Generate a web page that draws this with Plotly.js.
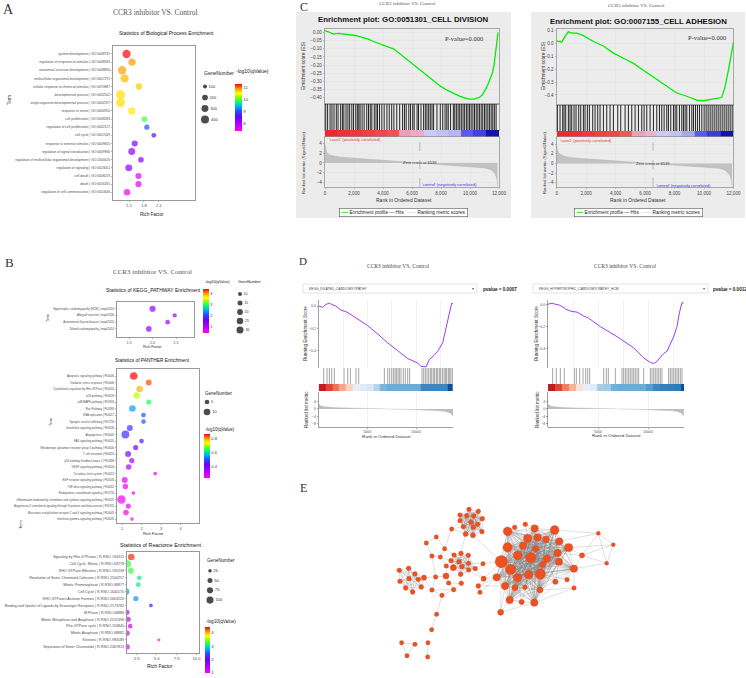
<!DOCTYPE html>
<html><head><meta charset="utf-8">
<script src="https://cdn.plot.ly/plotly-3.0.1.min.js"></script>
<style>html,body{margin:0;padding:0;background:#fff;}#chart{width:746px;height:678px;}</style>
</head><body><div id="chart"></div>
<script>
// ================= DATA =================
// Panel A: GO Biological Process
const bpTerms = ["system development | GO:0048731","regulation of response to stimulus | GO:0048583","anatomical structure development | GO:0048856","multicellular organismal development | GO:0007275","cellular response to chemical stimulus | GO:0070887","developmental process | GO:0032502","single-organism developmental process | GO:0044767","response to stress | GO:0006950","cell proliferation | GO:0008283","regulation of cell proliferation | GO:0042127","cell cycle | GO:0007049","response to external stimulus | GO:0009605","regulation of signal transduction | GO:0009966","regulation of multicellular organismal development | GO:2000026","regulation of signaling | GO:0023051","cell death | GO:0008219","death | GO:0016265","regulation of cell communication | GO:0010646"];
const bpRichFactor = [1.45,1.56,1.36,1.41,1.70,1.33,1.33,1.555,1.81,1.86,2.0,1.615,1.555,1.74,1.495,1.69,1.69,1.46];
const bpLogQ = [11.3,10.9,10.87,10.79,10.71,10.63,10.63,10.59,9.96,9.0,8.61,8.34,8.30,8.22,8.26,7.59,7.59,7.43];
const bpGeneNumber = [420,340,430,420,260,520,500,330,200,170,140,230,300,200,300,230,230,260];
const bpLegendGenes = [100,200,300,400];
const bpColorTicks = [8,9,10,11];
const bpRichTicks = [1.5,1.8,2.1];

// Panel B: KEGG
const keggTerms = ["Hypertrophic cardiomyopathy (HCM) | map05410","Allograft rejection | map05330","Autoimmune thyroid disease | map05320","Dilated cardiomyopathy | map05414"];
const keggRichFactor = [2.0,2.47,2.32,1.92];
const keggLogQ = [1.35,1.25,1.3,1.35];
const keggGeneNumber = [23,11,13,19];
const keggLegendGenes = [10,15,20,25,30];
const keggColorTicks = [1,2,3,4];
const keggRichTicks = [1.5,2.0,2.5];

// Panel B: PANTHER
const ptTerms = ["Apoptosis signaling pathway | P00006","Oxidative stress response | P00046","Cytoskeletal regulation by Rho GTPase | P00016","p53 pathway | P00059","p38 MAPK pathway | P05918","Ras Pathway | P04393","DNA replication | P00017","Synaptic vesicle trafficking | P05734","Interleukin signaling pathway | P00036","Angiogenesis | P00005","FAS signaling pathway | P00020","Metabotropic glutamate receptor group II pathway | P00040","T cell activation | P00053","p53 pathway feedback loops 2 | P04398","VEGF signaling pathway | P00056","Circadian clock system | P00015","EGF receptor signaling pathway | P00018","TGF-beta signaling pathway | P00052","Endogenous cannabinoid signaling | P05730","Inflammation mediated by chemokine and cytokine signaling pathway | P00031","Angiotensin II-stimulated signaling through G proteins and beta-arrestin | P05911","Muscarinic acetylcholine receptor 2 and 4 signaling pathway | P00043","Interferon-gamma signaling pathway | P00035"];
const ptRichFactor = [1.6,2.37,1.9,1.75,2.37,1.53,2.1,2.1,1.4,1.17,2.0,1.7,1.31,1.5,1.34,2.7,1.14,1.17,1.58,0.97,1.32,1.2,1.51];
const ptLogQ = [0.87,0.838,0.79,0.71,0.64,0.55,0.50,0.50,0.47,0.47,0.45,0.42,0.39,0.35,0.33,0.27,0.26,0.26,0.255,0.243,0.25,0.243,0.236];
const ptGeneNumber = [13,8,10,9,6,10,5,5,8,14,5,6,8,6,7,3,8,7,3,16,6,7,3];
const ptLegendGenes = [5,10];
const ptColorTicks = [0.4,0.6,0.8];
const ptRichTicks = [1,2,3,4];

// Panel B: Reactome
const rcTerms = ["Signaling by Rho GTPases | R-RNO-194315","Cell Cycle, Mitotic | R-RNO-69278","RHO GTPase Effectors | R-RNO-195258","Resolution of Sister Chromatid Cohesion | R-RNO-2500257","Mitotic Prometaphase | R-RNO-68877","Cell Cycle | R-RNO-1640170","RHO GTPases Activate Formins | R-RNO-5663220","Binding and Uptake of Ligands by Scavenger Receptors | R-RNO-2173782","M Phase | R-RNO-68886","Mitotic Metaphase and Anaphase | R-RNO-2555396","Rho GTPase cycle | R-RNO-194840","Mitotic Anaphase | R-RNO-68882","Kinesins | R-RNO-983189","Separation of Sister Chromatids | R-RNO-2467813"];
const rcRichFactor = [1.83,1.38,1.79,2.83,2.71,1.16,2.41,4.29,1.29,1.45,1.7,1.33,5.29,1.33];
const rcLogQ = [4.35,3.28,3.28,3.07,3.07,2.73,2.7,2.14,1.41,1.28,1.24,1.2,1.07,1.2];
const rcGeneNumber = [88,100,75,44,44,100,54,28,54,54,44,54,16,54];
const rcLegendGenes = [25,50,75,100];
const rcColorTicks = [1,2,3,4];
const rcRichTicks = [2.5,5,7.5,10];

// Panel C: GSEA (Broad style)
const c1Rank = [0,230,580,920,1200,1500,1850,2190,2650,3000,3350,3700,4040,4380,4730,5080,5420,5770,6120,6580,7040,7500,7960,8420,8880,9230,9580,9930,10270,10620,10850,11020,11190,11360,11540,11660,11770,11850,11930];
const c1ES = [0.01,0.005,-0.01,-0.005,-0.008,-0.01,-0.015,-0.02,-0.03,-0.04,-0.055,-0.068,-0.08,-0.09,-0.10,-0.125,-0.15,-0.175,-0.2,-0.233,-0.265,-0.3,-0.33,-0.355,-0.375,-0.39,-0.40,-0.41,-0.41,-0.40,-0.385,-0.36,-0.33,-0.29,-0.25,-0.2,-0.13,-0.07,0.0];
const c1Hits = [50,180,350,480,620,780,900,1080,1200,1300,1450,1580,1700,1850,1970,2120,2230,2330,2420,2560,2700,2880,3000,3120,3230,3400,3520,3620,3760,3920,4080,4270,4430,4600,4750,4950,5150,5350,5480,5600,5780,5900,6050,6150,6350,6450,6620,6800,6920,7030,7150,7260,7380,7490,7720,7950,8120,8280,8400,8500,8660,8850,8950,9060,9180,9290,9400,9520,9630,9750,9860,9970,10080,10200,10310,10430,10540,10650,10770,10880,11000,11110,11230,11340,11460,11570,11680,11800];
const c2Rank = [0,340,566,790,1020,1360,1810,2490,3170,3850,4530,5210,5780,6340,6900,7470,8150,8830,9510,9960,10300,10640,11200,11430,11660,11890,12000];
const c2ES = [0.02,0.01,0.055,0.09,0.08,0.08,0.06,0.015,-0.02,-0.075,-0.115,-0.155,-0.2,-0.245,-0.29,-0.335,-0.385,-0.41,-0.44,-0.445,-0.435,-0.43,-0.42,-0.335,-0.205,-0.05,0.01];
const c2Hits = [45,226,408,498,611,792,906,1019,1177,1313,1494,1630,1811,1924,2083,2219,2445,2604,2785,2943,3170,3396,3622,3849,4143,4347,4641,4868,5094,5320,5547,5773,5932,6113,6339,6566,6792,6973,7131,7290,7471,7584,7743,7924,8037,8150,8332,8490,8603,8717,8830,9011,9170,9283,9418,9554,9690,9849,10007,10143,10279,10415,10551,10687,10823,10959,11094,11230,11366,11502,11638,11774,11909];
const cMetricRank = [0,40,120,300,600,1000,1500,2000,3000,4000,5000,6000,6539,7000,8000,9000,10000,10500,11000,11300,11500,11700,11800,11870,11900];
const c1Metric = [3.8,2.8,2.1,1.7,1.4,1.2,1.05,0.95,0.75,0.55,0.35,0.12,0,-0.08,-0.25,-0.45,-0.65,-0.8,-1.0,-1.25,-1.5,-2.1,-2.7,-3.5,-4.8];
const c2Metric = [3.9,2.9,2.2,1.75,1.4,1.2,1.05,0.95,0.75,0.55,0.35,0.12,0,-0.08,-0.25,-0.45,-0.65,-0.8,-1.0,-1.25,-1.55,-2.2,-2.8,-3.6,-4.9];
const cZeroCross = 6539;
const cBandEdges = [0,850,1700,2550,3400,4250,5100,5950,6800,7650,8500,9350,10200,11100,12000];
const c1BandLevels = [1.0,0.95,0.9,0.85,0.8,0.75,0.35,0.28,-0.2,-0.25,-0.3,-0.6,-0.7,-0.95];
const c2BandLevels = [1.0,0.95,0.9,0.85,0.8,0.72,0.35,0.25,-0.2,-0.25,-0.35,-0.6,-0.72,-0.95];

// Panel D: GSEA (clusterProfiler style)
const d1Rank = [0,410,750,1100,1440,1780,2290,2800,3320,4000,5030,6060,7090,8120,9140,10170,10510,11030,11370,11880,12230,12740,13080,13420,13660,13870];
const d1ES = [0.0,-0.012,0.015,0.025,0.01,0.0,-0.037,-0.05,-0.077,-0.115,-0.175,-0.25,-0.33,-0.40,-0.47,-0.51,-0.54,-0.545,-0.48,-0.44,-0.405,-0.33,-0.19,-0.07,0.025,0.015];
const d1Hits = [514,856,1096,1336,1610,2603,2979,3253,3836,4110,6747,7089,7295,7500,7671,7842,7979,8151,8288,8459,8699,8904,9144,9349,10616,10788,10959,11130,11301,11473,11610,11781,11918,12089,12226,12397,12534,12705,12877,13014,13151,13322,13459,13596,13767];
const d2Rank = [0,400,730,1070,1400,1900,2400,2900,3570,4070,5230,6900,8570,9570,10230,10570,10900,11230,11570,11900,12230,12570,12900,13130,13400,13570];
const d2ES = [0,0.01,0.0,-0.005,-0.02,-0.05,-0.065,-0.07,-0.105,-0.125,-0.2,-0.29,-0.39,-0.48,-0.52,-0.53,-0.51,-0.47,-0.44,-0.42,-0.35,-0.29,-0.2,-0.08,0.015,0.01];
const d2Hits = [467,833,1233,1633,2633,2833,3167,3500,3767,3967,4167,5567,5833,6033,6733,7400,7567,7733,7900,8067,8233,8400,8567,8733,8900,9067,9567,10233,10400,10567,10733,10900,11067,11233,11400,12067,12233,12400,12567,12733,12900,13067,13233,13400];
const d1MetricRank = [0,100,300,600,1000,2000,3000,4000,5000,6000,7000,8000,9000,10000,11000,12000,12500,13000,13400,13650,13800];
const d1Metric = [2.8,2.0,1.5,1.2,1.0,0.7,0.5,0.35,0.22,0.1,0.0,-0.1,-0.2,-0.32,-0.5,-0.8,-1.0,-1.4,-2.0,-2.8,-4.0];
const d2MetricRank = [0,100,300,600,1000,2000,3000,4000,5000,6000,7000,8000,9000,10000,11000,12000,12500,12900,13250,13450,13580];
const d2Metric = [2.9,2.1,1.5,1.2,1.0,0.7,0.5,0.35,0.22,0.1,0.0,-0.1,-0.2,-0.32,-0.5,-0.8,-1.0,-1.4,-2.0,-2.9,-4.0];
const d1BandEdges = [0,700,1400,2100,2800,3500,4200,4900,5600,6300,7000,7700,8400,9100,9800,10500,11200,11900,12600,13300,13800];
const d1BandLevels = [1.0,0.8,0.65,0.45,0.25,-0.05,-0.08,-0.12,-0.25,-0.45,-0.5,-0.5,-0.5,-0.5,-0.5,-0.62,-0.62,-0.62,-0.62,-0.95];
const d2BandEdges = [0,700,1400,2100,2800,3500,4200,4900,5600,6300,7000,7700,8400,9100,9800,10500,11200,11900,12600,13300,13600];
const d2BandLevels = [1.0,0.8,0.6,0.4,0.15,-0.05,-0.08,-0.3,-0.32,-0.48,-0.5,-0.5,-0.5,-0.5,-0.55,-0.62,-0.65,-0.68,-0.7,-0.95];

// Panel E: PPI network (layout coordinates and degree)
const nodeX = [627,655,600,620,641,667,600,633,653,610,640,666,617,639,575, 529,499,554,516,541,582,603,625,573,597,559,580,606,626,626,602,646,669,558,527,566,604,581,516,546, 418,446,465,447,420,475,492,437,458,484, 530,515, 425,465,441, 504,503, 655,660, 743,764,796,824,884,803,833,858,898,789,743,827,926,773,812,861,893,724,752,848,897,942,806,841,773,710,735,765,795,840,886,921,942,749,785,823,722,966,671, 1015,1060,1040];
const nodeY = [238,244,255,257,258,266,272,277,283,290,292,305,312,316,297, 321,339,356,378,381,375,370,376,392,395,408,413,410,400,420,433,416,401,438,441,459,460,479,480,496, 421,415,432,446,454,448,443,474,486,471, 553,599, 638,643,677, 638,681, 468,487, 304,292,283,295,300,325,322,328,334,347,352,356,353,376,383,386,369,395,418,404,395,416,434,432,443,442,468,473,472,480,455,449,474,510,516,518,547,376,446, 310,344,400];
const nodeDegree = [5,5,5,5,6,6,5,6,6,6,6,5,7,7,4, 4,4,4,5,4,5,5,5,5,6,5,12,6,5,5,6,5,4,12,5,5,5,5,5,5, 6,6,6,6,6,6,8,6,6,6, 4,4, 4,4,4, 4,4, 6,4, 25,5,5,18,25,22,18,15,18,18,28,12,22,25,32,18,18,42,32,12,18,18,22,32,22,18,18,12,5,12,8,5,5,18,8,18,12,8,8, 2,2,2];
const netCliques = [[0,1,2,3,4,5,6,7,8,9,10,11,12,13],[20,21,22,23,24,26,27,28,29,30,31],[40,41,42,43,44,45,47,48,49],[59,62,63,64,65,66,67,68,69,70,71,72,73,74,75,76,77,78,79,80,81,82,83,84,85,86,88,92,94]];
const netEdges = [[14,9],[14,12],[14,6],[13,76],[12,21],[14,17],[15,16],[15,17],[16,18],[17,19],[17,20],[18,19],[18,34],[19,23],[19,25],[25,26],[25,33],[23,25],[33,34],[33,35],[33,26],[34,38],[34,46],[35,36],[35,37],[36,30],[36,37],[37,39],[38,39],[37,38],[39,50],[50,51],[52,53],[53,54],[52,54],[55,56],[46,45],[46,42],[46,49],[46,38],[32,31],[32,28],[32,76],[31,97],[97,84],[97,76],[97,57],[57,58],[57,84],[58,84],[57,85],[29,97],[60,59],[60,64],[60,68],[61,62],[61,64],[61,65],[87,81],[87,83],[87,73],[89,82],[89,74],[89,79],[90,80],[90,82],[91,80],[91,94],[91,88],[93,92],[93,81],[93,83],[95,92],[95,85],[95,76],[95,94],[96,71],[96,80],[96,75],[96,98],[96,100],[63,98],[67,98],[98,99],[98,100],[99,100],[71,99],[80,100],[96,99]];

// ================= STYLE / LAYOUT =================
const W = 746, H = 678;
const SANS = 'Liberation Sans, Arial, sans-serif';
const SERIF = 'Liberation Serif, Times New Roman, serif';
const RAINBOW = [[0,'#FF00F0'],[0.15,'#B000FF'],[0.3,'#6A00FF'],[0.42,'#2050FF'],[0.52,'#00B0FF'],[0.62,'#00FF70'],[0.72,'#90FF00'],[0.8,'#FFFF00'],[0.9,'#FF9900'],[1,'#FF0000']];
const CBAND = [[0,'#0A0AA0'],[0.1,'#2828D0'],[0.2,'#5A5AEC'],[0.3,'#9A9AF4'],[0.38,'#C4C4F8'],[0.45,'#DCDCFA'],[0.5,'#F2ECF6'],[0.6,'#F2B8DA'],[0.68,'#F09AB8'],[0.8,'#F07070'],[0.9,'#F04848'],[1,'#F02828']];
const DBAND = [[0,'#08468C'],[0.1,'#1F6EB0'],[0.19,'#3A86C2'],[0.25,'#6AAED8'],[0.35,'#A8CDE6'],[0.42,'#CFE1F2'],[0.47,'#E6EEF8'],[0.5,'#F6F6F6'],[0.6,'#FDDBC9'],[0.72,'#F8A98E'],[0.82,'#F07358'],[0.92,'#DC3B2C'],[1,'#BE1E22']];

const layout = {width:W, height:H, margin:{l:0,r:0,t:0,b:0,pad:0}, paper_bgcolor:'#ffffff', plot_bgcolor:'#ffffff',
  showlegend:false, font:{family:SANS, size:5, color:'#333'}, shapes:[], annotations:[]};
const traces = [];
let axN = 0;
function dom(x0,x1,y0,y1){ return {x:[x0/W, x1/W], y:[1-y1/H, 1-y0/H]}; }
function addAxes(d, xo, yo){
  axN++; const s = axN===1 ? '' : String(axN);
  const base = {showgrid:false, zeroline:false, showline:false, showticklabels:false, ticks:'', fixedrange:true, automargin:false};
  layout['xaxis'+s] = Object.assign({}, base, {domain:d.x, anchor:'y'+s}, xo||{});
  layout['yaxis'+s] = Object.assign({}, base, {domain:d.y, anchor:'x'+s}, yo||{});
  return {xa:'x'+s, ya:'y'+s};
}
function ann(text, x, y, size, o){
  o = o || {};
  const a = {text:text, x:x/W, y:1-y/H, xref:'paper', yref:'paper', showarrow:false,
    xanchor:o.xa||'center', yanchor:'middle', textangle:o.angle||0,
    font:{family:o.family||SANS, size:size, color:o.color||'#222'}};
  if (o.bg) a.bgcolor = o.bg;
  if (o.border){ a.bordercolor = o.border; a.borderwidth = 0.6; a.borderpad = o.pad||1; }
  layout.annotations.push(a);
}
function rect(x0,y0,x1,y1,fill,line){
  layout.shapes.push({type:'rect', xref:'paper', yref:'paper', x0:x0/W, x1:x1/W, y0:1-y1/H, y1:1-y0/H,
    fillcolor:fill, line:{color:line||fill, width:line?0.6:0}, layer:'below'});
}

// ---------- enrichment bubble panels ----------
function enrichPanel(c){
  const frame = {showline:true, mirror:true, linecolor:'#7f7f7f', linewidth:0.8, ticks:'outside', ticklen:1.5, tickwidth:0.5, tickcolor:'#666'};
  const a = addAxes(dom(c.box[0],c.box[1],c.box[2],c.box[3]),
    Object.assign({range:c.xRange, tickvals:c.xTicks, tickformat:c.xFmt, showticklabels:true, tickfont:{size:c.tickSize, color:'#4d4d4d'}}, frame),
    Object.assign({type:'category', categoryorder:'array', categoryarray:c.terms, range:c.yRange, showticklabels:true, tickfont:{size:c.termSize, color:'#4d4d4d'}}, frame));
  traces.push({type:'scatter', mode:'markers', x:c.rich, y:c.terms, xaxis:a.xa, yaxis:a.ya, hoverinfo:'skip',
    marker:{size:c.genes, sizemode:'area', sizeref:c.sizeref, sizemin:1, color:c.q, cmin:c.qRange[0], cmax:c.qRange[1], colorscale:RAINBOW, line:{width:0},
      showscale:true, colorbar:{x:c.cb.x/W, xanchor:'left', y:1-c.cb.y0/H, yanchor:'top', len:c.cb.y1-c.cb.y0, lenmode:'pixels', thickness:c.cb.t, thicknessmode:'pixels',
        xpad:0, ypad:0, outlinewidth:0, tickvals:c.cTicks, tickformat:c.cFmt, ticks:'', ticklen:0, tickfont:{size:c.cbFont, color:'#333'}, title:{text:''}}}});
  const L = c.legend;
  const b = addAxes(dom(L.x-3, L.x+27, L.y0, L.y1), {range:[-3,27]}, {range:[c.legendGenes.length-0.5, -0.5]});
  traces.push({type:'scatter', mode:'markers+text', x:c.legendGenes.map(()=>0), y:c.legendGenes.map((_,i)=>i),
    text:c.legendGenes.map(String), textposition:'middle right', textfont:{size:c.legendFont, color:'#333'}, cliponaxis:false,
    marker:{size:c.legendGenes, sizemode:'area', sizeref:c.sizeref, color:'#000', line:{width:0}}, xaxis:b.xa, yaxis:b.ya, hoverinfo:'skip'});
}

enrichPanel({box:[113,195,46,200], terms:bpTerms, rich:bpRichFactor, q:bpLogQ, genes:bpGeneNumber, xRange:[1.177,2.83], xTicks:bpRichTicks, xFmt:'.1f',
  yRange:[17.95,-0.98], tickSize:4, termSize:3.3, sizeref:12.3, qRange:[7.35,11.3], cTicks:bpColorTicks, cFmt:'d',
  cb:{x:235, y0:84, y1:131, t:7}, cbFont:4.3, legend:{x:205, y0:81, y1:125}, legendGenes:bpLegendGenes, legendFont:4});
enrichPanel({box:[117,194,302,337], terms:keggTerms, rich:keggRichFactor, q:keggLogQ, genes:keggGeneNumber, xRange:[1.245,2.88], xTicks:keggRichTicks, xFmt:'.1f',
  yRange:[4.2,-1.0], tickSize:3.6, termSize:2.8, sizeref:1.2, qRange:[0.45,4.45], cTicks:keggColorTicks, cFmt:'d',
  cb:{x:203, y0:289, y1:333, t:6}, cbFont:3.8, legend:{x:240, y0:289.5, y1:334.5}, legendGenes:keggLegendGenes, legendFont:3.6});
enrichPanel({box:[117,199,369,523], terms:ptTerms, rich:ptRichFactor, q:ptLogQ, genes:ptGeneNumber, xRange:[0.74,4.95], xTicks:ptRichTicks, xFmt:'d',
  yRange:[22.6,-1.08], tickSize:3.8, termSize:2.8, sizeref:0.45, qRange:[0.23,0.87], cTicks:ptColorTicks, cFmt:'.1f',
  cb:{x:204, y0:434, y1:478, t:6}, cbFont:4, legend:{x:207, y0:397, y1:417}, legendGenes:ptLegendGenes, legendFont:4});
enrichPanel({box:[127,199,552,653], terms:rcTerms, rich:rcRichFactor, q:rcLogQ, genes:rcGeneNumber, xRange:[1.3,10.3], xTicks:rcRichTicks, xFmt:'.1f',
  yRange:[13.88,-0.72], tickSize:4.2, termSize:3.6, sizeref:4, qRange:[1.0,4.45], cTicks:rcColorTicks, cFmt:'d',
  cb:{x:205, y0:627, y1:673, t:5}, cbFont:4.2, legend:{x:210, y0:566, y1:605}, legendGenes:rcLegendGenes, legendFont:4.2});

// ---------- GSEA (Broad) panels ----------
function gseaC(c){
  const xr = [0,12000];
  const box = {showline:true, mirror:true, linecolor:'#8c8c8c', linewidth:0.7};
  const gx = {showgrid:true, gridcolor:'#e2e2e2', gridwidth:0.5, dtick:2000, tick0:0};
  const tk = {showticklabels:true, ticks:'outside', ticklen:1.5, tickwidth:0.5, tickcolor:'#8c8c8c', tickfont:{size:4.6, color:'#444'}};
  const es = addAxes(dom(c.x0,c.x1,c.esTop,c.esBot), Object.assign({range:xr}, gx, box),
    Object.assign({range:c.esRange, showgrid:true, gridcolor:'#e2e2e2', gridwidth:0.5, dtick:c.esDtick, tick0:0, tickformat:c.esFmt}, tk, box));
  traces.push({type:'scatter', mode:'lines', x:c.rank, y:c.es, line:{color:'#00EE00', width:1.3}, xaxis:es.xa, yaxis:es.ya, hoverinfo:'skip'});
  const hx=[], hy=[]; c.hits.forEach(h=>{hx.push(h,h,null); hy.push(0,1,null);});
  const hi = addAxes(dom(c.x0,c.x1,c.esBot,c.hitsBot), Object.assign({range:xr}, box), Object.assign({range:[0,1]}, box));
  traces.push({type:'scatter', mode:'lines', x:hx, y:hy, line:{color:'rgba(0,0,0,0.85)', width:1}, xaxis:hi.xa, yaxis:hi.ya, hoverinfo:'skip'});
  const bd = addAxes(dom(c.x0,c.x1,c.hitsBot,c.bandBot), {range:xr}, {range:[-0.5,0.5]});
  traces.push({type:'heatmap', x:c.bandEdges, y:[0], z:[c.bandLevels], zmin:-1, zmax:1, colorscale:CBAND, showscale:false, xaxis:bd.xa, yaxis:bd.ya, hoverinfo:'skip'});
  const rk = addAxes(dom(c.x0,c.x1,c.bandBot,c.rankBot), Object.assign({range:xr, tickformat:',d'}, gx, tk, box),
    Object.assign({range:c.rankRange, showgrid:true, gridcolor:'#e2e2e2', gridwidth:0.5, dtick:2, tick0:0}, tk, box));
  traces.push({type:'scatter', mode:'lines', x:c.metricRank, y:c.metric, fill:'tozeroy', fillcolor:'#C2C2C2', line:{color:'#B5B5B5', width:0.5}, xaxis:rk.xa, yaxis:rk.ya, hoverinfo:'skip'});
  layout.shapes.push({type:'line', xref:rk.xa, yref:rk.ya+' domain', x0:c.zc, x1:c.zc, y0:0, y1:1, line:{color:'#999', width:0.6, dash:'dash'}});
  layout.annotations.push({text:'Zero cross at '+c.zc, x:c.zc, y:0, xref:rk.xa, yref:rk.ya, showarrow:false, xanchor:'center', yanchor:'middle', font:{family:SANS, size:4, color:'#333'}});
}
gseaC({x0:325, x1:499, esTop:28.5, esBot:104, hitsBot:130, bandBot:137, rankBot:187, esRange:[-0.44,0.025], esDtick:0.05, esFmt:'.2f',
  rank:c1Rank, es:c1ES, hits:c1Hits, bandEdges:cBandEdges, bandLevels:c1BandLevels, metricRank:cMetricRank, metric:c1Metric, rankRange:[-4.9,5.3], zc:cZeroCross});
gseaC({x0:556.7, x1:733.5, esTop:29, esBot:105, hitsBot:131, bandBot:137, rankBot:187, esRange:[-0.478,0.112], esDtick:0.1, esFmt:'.1f',
  rank:c2Rank, es:c2ES, hits:c2Hits, bandEdges:cBandEdges, bandLevels:c2BandLevels, metricRank:cMetricRank, metric:c2Metric, rankRange:[-4.9,5.5], zc:cZeroCross});

// ---------- GSEA (clusterProfiler) panels ----------
function gseaD(c){
  const xr = [0,c.xMax];
  const gx = {showgrid:true, gridcolor:'#ebebeb', gridwidth:0.6, dtick:2500, tick0:0};
  const tk = {showticklabels:true, ticks:'outside', ticklen:1.5, tickwidth:0.5, tickcolor:'#555', tickfont:{size:3.6, color:'#555'}};
  const es = addAxes(dom(c.x0,c.x1,300,368), Object.assign({range:xr}, gx),
    Object.assign({range:c.esRange, tickvals:[-0.4,-0.2,0], tickformat:'.1f', showline:true, linecolor:'#444', linewidth:0.5}, tk));
  traces.push({type:'scatter', mode:'lines', x:c.rank, y:c.es, line:{color:'#9B3CF5', width:1}, xaxis:es.xa, yaxis:es.ya, hoverinfo:'skip'});
  const hx=[], hy=[]; c.hits.forEach(h=>{hx.push(h,h,null); hy.push(0,1,null);});
  const hi = addAxes(dom(c.x0,c.x1,368,384), {range:xr}, {range:[0,1]});
  traces.push({type:'scatter', mode:'lines', x:hx, y:hy, line:{color:'rgba(0,0,0,0.6)', width:0.6}, xaxis:hi.xa, yaxis:hi.ya, hoverinfo:'skip'});
  const bd = addAxes(dom(c.x0,c.x1,384,391), {range:xr}, {range:[-0.5,0.5]});
  traces.push({type:'heatmap', x:c.bandEdges, y:[0], z:[c.bandLevels], zmin:-1, zmax:1, colorscale:DBAND, showscale:false, xaxis:bd.xa, yaxis:bd.ya, hoverinfo:'skip'});
  const rk = addAxes(dom(c.x0,c.x1,392,427), Object.assign({range:xr, tickvals:[5000,10000], tickformat:'d', showline:true, linecolor:'#444', linewidth:0.5}, gx, tk),
    Object.assign({range:[-9.7,9.1], tickvals:[-8,-4,0,4], showline:true, linecolor:'#444', linewidth:0.5}, tk));
  traces.push({type:'scatter', mode:'lines', x:c.metricRank, y:c.metric, fill:'tozeroy', fillcolor:'#BDBDBD', line:{color:'#BDBDBD', width:0.4}, xaxis:rk.xa, yaxis:rk.ya, hoverinfo:'skip'});
}
gseaD({x0:318.7, x1:453, xMax:13800, esRange:[-0.555,0.054], rank:d1Rank, es:d1ES, hits:d1Hits, bandEdges:d1BandEdges, bandLevels:d1BandLevels, metricRank:d1MetricRank, metric:d1Metric});
gseaD({x0:548, x1:684, xMax:13600, esRange:[-0.57,0.038], rank:d2Rank, es:d2ES, hits:d2Hits, bandEdges:d2BandEdges, bandLevels:d2BandLevels, metricRank:d2MetricRank, metric:d2Metric});

// ---------- network ----------
(function(){
  const pairs = [];
  netCliques.forEach(cl=>{ for(let i=0;i<cl.length;i++) for(let j=i+1;j<cl.length;j++) pairs.push([cl[i],cl[j]]); });
  netEdges.forEach(e=>pairs.push(e));
  const ex=[], ey=[];
  pairs.forEach(([a,b])=>{ ex.push(nodeX[a],nodeX[b],null); ey.push(nodeY[a],nodeY[b],null); });
  const n = addAxes(dom(393.3,620,505,660), {range:[400,1080]}, {range:[690,225]});
  traces.push({type:'scatter', mode:'lines', x:ex, y:ey, line:{color:'rgba(125,125,125,0.6)', width:0.4}, xaxis:n.xa, yaxis:n.ya, hoverinfo:'skip'});
  traces.push({type:'scatter', mode:'markers', x:nodeX, y:nodeY, xaxis:n.xa, yaxis:n.ya, hoverinfo:'skip', cliponaxis:false,
    marker:{size:nodeDegree.map(d=>3.6+0.21*d), color:'#EE5020', opacity:1, line:{color:'#C8401A', width:0.3}}});
})();

// ---------- backgrounds & boxes ----------
rect(296,12,511,218,'#ECECEC');
rect(531,12,745,218,'#ECECEC');
rect(303,284,477,293,'#ffffff','#d0d0d0');
rect(533,284,708,293,'#ffffff','#d0d0d0');

// ---------- text ----------
// Panel A
ann('A', 8, 9, 14, {family:SERIF, color:'#333'});
ann('CCR3 inhibitor VS. Control', 155, 13, 7.5, {family:SERIF, color:'#555'});
ann('Statistics of Biological Process Enrichment', 166, 33, 5, {color:'#111'});
ann('Term', 10, 100, 4.5, {angle:-90, color:'#333'});
ann('Rich Factor', 152, 214, 4.6, {color:'#222'});
ann('GeneNumber', 202, 73, 5, {xa:'left', color:'#222'});
ann('-log10(qValue)', 234, 71, 5, {xa:'left', color:'#222'});
// Panel B
ann('B', 9, 262, 13, {family:SERIF, color:'#333'});
ann('CCR3 inhibitor VS. Control', 152, 272, 7, {family:SERIF, color:'#555'});
ann('Statistics of KEGG_PATHWAY Enrichment', 153, 290, 5, {color:'#111'});
ann('Term', 48, 318, 3.6, {angle:-90, color:'#333'});
ann('Rich Factor', 152, 347, 3.6, {color:'#222'});
ann('-log10(qValue)', 203, 282, 3.8, {xa:'left', color:'#222'});
ann('GeneNumber', 236, 282, 3.8, {xa:'left', color:'#222'});
ann('Statistics of PANTHER Enrichment', 152, 360, 4.8, {color:'#111'});
ann('Term', 51, 422, 3.6, {angle:-90, color:'#333'});
ann('Rich Factor', 153, 533, 4, {color:'#222'});
ann('GeneNumber', 203, 393, 4.5, {xa:'left', color:'#222'});
ann('-log10(qValue)', 203, 429, 4.5, {xa:'left', color:'#222'});
ann('Term', 20, 524, 4, {angle:-90, color:'#333'});
ann('Statistics of Reactome Enrichment', 160, 545, 5.3, {color:'#111'});
ann('Rich Factor', 160, 666, 5, {color:'#222'});
ann('GeneNumber', 205, 560, 4.6, {xa:'left', color:'#222'});
ann('-log10(qValue)', 204, 621, 4.6, {xa:'left', color:'#222'});
// Panel C
ann('C', 304, 7, 12, {family:SERIF, color:'#333'});
ann('CCR3 inhibitor VS. Control', 407, 4, 5, {family:SERIF, color:'#555'});
ann('CCR3 inhibitor VS. Control', 636, 5, 5, {family:SERIF, color:'#555'});
ann('<b>Enrichment plot: GO:0051301_CELL DIVISION</b>', 403, 19, 7.8, {color:'#111'});
ann('<b>Enrichment plot: GO:0007155_CELL ADHESION</b>', 638, 21, 7.8, {color:'#111'});
ann('P-value=0.000', 443, 39, 6.5, {xa:'left', family:SERIF, color:'#333'});
ann('P-value=0.000', 686, 37, 6.5, {xa:'left', family:SERIF, color:'#333'});
ann('Enrichment score (ES)', 303, 66, 4.8, {angle:-90, color:'#333'});
ann('Enrichment score (ES)', 543, 66, 4.8, {angle:-90, color:'#333'});
ann('Ranked list metric (Signal2Noise)', 303, 163, 4.2, {angle:-90, color:'#333'});
ann('Ranked list metric (Signal2Noise)', 544, 163, 4.2, {angle:-90, color:'#333'});
ann("'case2' (positively correlated)", 327, 139.5, 4, {xa:'left', color:'#F03030'});
ann("'case2' (positively correlated)", 558, 140, 4, {xa:'left', color:'#F03030'});
ann("'control' (negatively correlated)", 479, 184, 4, {xa:'right', color:'#3535F0'});
ann("'control' (negatively correlated)", 713, 185, 4, {xa:'right', color:'#3535F0'});
ann('Rank in Ordered Dataset', 404, 200, 5, {color:'#333'});
ann('Rank in Ordered Dataset', 638, 200, 5, {color:'#333'});
const legTxt = '<span style="color:#00DD00">━━</span> Enrichment profile <span style="color:#222">—</span> Hits  <span style="color:#bbb">——</span> Ranking metric scores';
ann(legTxt, 403.5, 212.5, 4.8, {color:'#222', bg:'#ffffff', border:'#555', pad:1.5});
ann(legTxt, 638.5, 212.5, 4.8, {color:'#222', bg:'#ffffff', border:'#555', pad:1.5});
// Panel D
ann('D', 303, 261, 11, {family:SERIF, color:'#333'});
ann('CCR3 inhibitor VS. Control', 398, 266, 5.5, {family:SERIF, color:'#444'});
ann('CCR3 inhibitor VS. Control', 625, 266, 5.5, {family:SERIF, color:'#444'});
ann('KEGG_DILATED_CARDIOMYOPATHY', 307, 288.5, 3.3, {xa:'left', color:'#444'});
ann('KEGG_HYPERTROPHIC_CARDIOMYOPATHY_HCM', 537, 288.5, 3.3, {xa:'left', color:'#444'});
ann('▾', 473, 289, 3.5, {color:'#555'});
ann('▾', 704, 289, 3.5, {color:'#555'});
ann('<b>pvalue = 0.0007</b>', 481, 289, 4.6, {xa:'left', color:'#222'});
ann('<b>pvalue = 0.0012</b>', 711, 289, 4.6, {xa:'left', color:'#222'});
ann('Running Enrichment Score', 306, 334, 4.6, {angle:-90, color:'#333'});
ann('Running Enrichment Score', 537, 334, 4.6, {angle:-90, color:'#333'});
ann('Ranked list metric', 306, 410, 4.6, {angle:-90, color:'#333'});
ann('Ranked list metric', 537, 410, 4.6, {angle:-90, color:'#333'});
ann('Rank in Ordered Dataset', 386, 436, 4.4, {color:'#333'});
ann('Rank in Ordered Dataset', 616, 435, 4.4, {color:'#333'});
// Panel E
ann('E', 303, 488, 12, {family:SERIF, color:'#333'});

Plotly.newPlot('chart', traces, layout, {staticPlot:true, displayModeBar:false});
</script>
</body></html>
